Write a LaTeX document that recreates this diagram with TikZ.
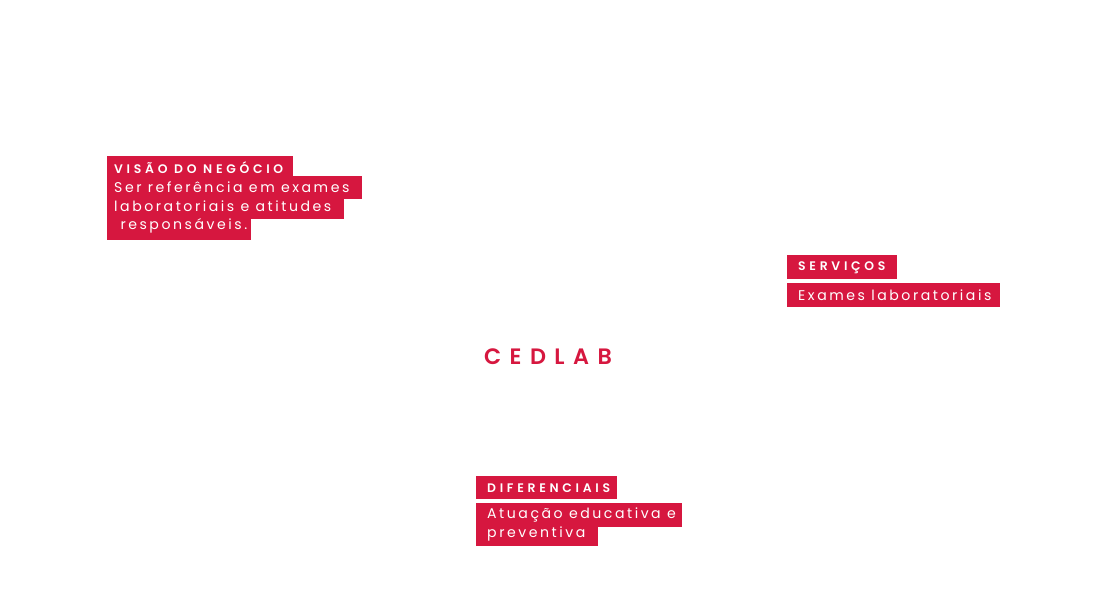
\documentclass[tikz,border=0pt]{standalone}
\usepackage{fontspec}
\setmainfont{Poppins}
\newfontfamily\bodyf[LetterSpace=18]{Poppins}
\newfontfamily\headf[LetterSpace=30]{Poppins SemiBold}
\newfontfamily\bigf[LetterSpace=38]{Poppins SemiBold}
\definecolor{crim}{HTML}{D6173F}
\tikzset{x=1pt,y=-1pt,
 bar/.style={fill=crim,draw=none},
 hd/.style={anchor=west,inner sep=0,text=white,font=\headf\fontsize{12.4}{14}\selectfont},
 bd/.style={anchor=west,inner sep=0,text=white,font=\bodyf\fontsize{14.1}{16}\selectfont},
 big/.style={inner sep=0,text=crim,font=\bigf\fontsize{22.3}{24}\selectfont}}
\begin{document}
\begin{tikzpicture}
\useasboundingbox (0,0) rectangle (1099,615);
% Visao
\fill[bar] (107,156) rectangle (293,178);
\fill[bar] (107,176) rectangle (362,199);
\fill[bar] (107,196) rectangle (344,219);
\fill[bar] (107,216) rectangle (251,240);
\node[hd] (v1) at (114,168) {VISÃO DO NEGÓCIO};
\node[bd] (v2) at (114,187) {Ser referência em exames};
\node[bd] (v3) at (114,206) {laboratoriais e atitudes};
\node[bd] (v4) at (114,226) {\ responsáveis.};
% Servicos
\fill[bar] (787,255) rectangle (897,279);
\fill[bar] (787,283) rectangle (1000,307);
\node[hd] (s1) at (798,268) {SERVIÇOS};
\node[bd] (s2) at (798,295) {Exames laboratoriais};
% Diferenciais
\fill[bar] (476,476) rectangle (617,499);
\fill[bar] (476,503) rectangle (682,527);
\fill[bar] (476,524) rectangle (598,546);
\node[hd] (d1) at (487,488) {DIFERENCIAIS};
\node[bd] (d2) at (487,515) {Atuação educativa e};
\node[bd] (d3) at (487,534) {preventiva};
\node[big] (c) at (548,357) {CEDLAB};
\end{tikzpicture}
\end{document}
